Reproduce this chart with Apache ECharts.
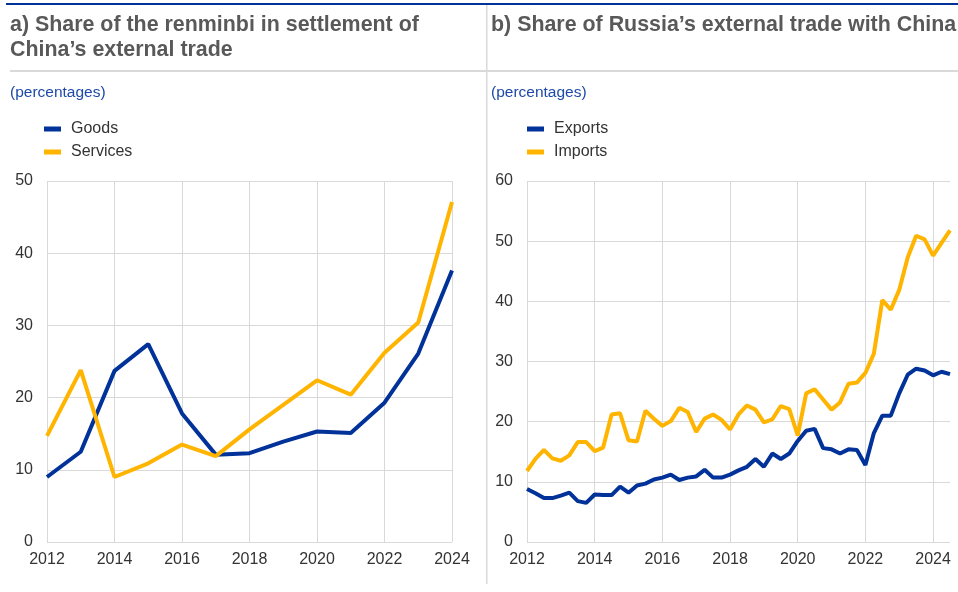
<!DOCTYPE html>
<html>
<head>
<meta charset="utf-8">
<script src="https://cdn.jsdelivr.net/npm/echarts@6/dist/echarts.min.js"></script>
<style>
html,body{margin:0;padding:0;background:#fff;}
#chart{width:958px;height:592px;}
</style>
</head>
<body>
<div id="chart"></div>
<script>
// ---- Panel a) data (annual) ----
var yearsA = ['2012','2013','2014','2015','2016','2017','2018','2019','2020','2021','2022','2023','2024'];
var goods = [9.0, 12.5, 23.7, 27.4, 17.8, 12.1, 12.3, 13.9, 15.3, 15.1, 19.3, 26.1, 37.6];
var services = [14.7, 23.8, 9.0, 10.9, 13.5, 11.9, 15.6, 19.0, 22.4, 20.4, 26.2, 30.4, 47.1];

// ---- Panel b) data (quarterly, 2012Q1 - 2024Q3) ----
var quarterYears = ['2012','2013','2014','2015','2016','2017','2018','2019','2020','2021','2022','2023','2024'];
var quarters = [];
quarterYears.forEach(function (y) { ['Q1','Q2','Q3','Q4'].forEach(function (q) { quarters.push(y + q); }); });
quarters = quarters.slice(0, 51);
var exportsB = [8.8, 8.1, 7.3, 7.3, 7.7, 8.2, 6.8, 6.5, 7.9, 7.8,
                7.8, 9.2, 8.2, 9.4, 9.7, 10.4, 10.7, 11.2, 10.3, 10.7,
                10.9, 12.0, 10.7, 10.7, 11.2, 11.9, 12.5, 13.8, 12.5, 14.7,
                13.8, 14.7, 16.8, 18.5, 18.8, 15.6, 15.4, 14.7, 15.4, 15.3,
                12.8, 18.1, 21.0, 21.0, 24.7, 27.8, 28.8, 28.5, 27.7, 28.3,
                27.9];
var importsB = [11.8, 13.8, 15.3, 13.9, 13.5, 14.4, 16.6, 16.6, 15.1, 15.7,
                21.2, 21.4, 16.9, 16.7, 21.8, 20.5, 19.3, 20.1, 22.3, 21.6,
                18.3, 20.5, 21.2, 20.3, 18.7, 21.2, 22.7, 22.0, 19.9, 20.4,
                22.6, 22.1, 17.7, 24.7, 25.4, 23.7, 22.0, 23.2, 26.3, 26.5,
                28.1, 31.3, 40.2, 38.6, 41.9, 47.3, 50.9, 50.3, 47.6, 49.7,
                51.8];

var titleA1 = 'a) Share of the renminbi in settlement of';
var titleA2 = 'China\u2019s external trade';
var titleB = 'b) Share of Russia\u2019s external trade with China';
var unitText = '(percentages)';

var BLUE = '#003299', ORANGE = '#ffb400', GRID = '#d9d9d9', TXT = '#333333';
var FONT = '"Liberation Sans", Arial, sans-serif';

var chart = echarts.init(document.getElementById('chart'), null, {renderer: 'canvas'});

function xAxisCfg(gridIndex, data, interval) {
  return {
    type: 'category', gridIndex: gridIndex, data: data, boundaryGap: false,
    axisLine: {show: false}, axisTick: {show: false},
    axisLabel: {interval: interval, color: TXT, fontSize: 16, fontFamily: FONT, margin: 10,
      formatter: function (v) { return v.slice(0, 4); }},
    splitLine: {show: true, interval: interval, lineStyle: {color: GRID, width: 1}}
  };
}
function yAxisCfg(gridIndex, max) {
  return {
    type: 'value', gridIndex: gridIndex, min: 0, max: max, interval: 10,
    axisLine: {show: false}, axisTick: {show: false},
    axisLabel: {color: TXT, fontSize: 16, fontFamily: FONT, margin: 14},
    splitLine: {show: true, lineStyle: {color: GRID, width: 1}}
  };
}
function lineSeries(name, data, color, idx) {
  return {
    name: name, type: 'line', data: data, xAxisIndex: idx, yAxisIndex: idx,
    symbol: 'none', lineStyle: {color: color, width: 4}, itemStyle: {color: color}
  };
}
function legendCfg(names, left) {
  return {
    data: names, orient: 'vertical', left: left, top: 121, padding: 0, icon: 'rect',
    itemWidth: 17, itemHeight: 5, itemGap: 7,
    textStyle: {fontSize: 16, color: TXT, fontFamily: FONT, padding: [0, 0, 0, 5]}
  };
}

chart.setOption({
  animation: false,
  backgroundColor: '#ffffff',
  textStyle: {fontFamily: FONT},
  grid: [
    {left: 47, top: 181, width: 405, height: 361},
    {left: 527, top: 181, width: 423, height: 361}
  ],
  xAxis: [xAxisCfg(0, yearsA, 1), xAxisCfg(1, quarters, 7)],
  yAxis: [yAxisCfg(0, 50), yAxisCfg(1, 60)],
  legend: [legendCfg(['Goods', 'Services'], 44), legendCfg(['Exports', 'Imports'], 527)],
  series: [
    lineSeries('Goods', goods, BLUE, 0),
    lineSeries('Services', services, ORANGE, 0),
    lineSeries('Exports', exportsB, BLUE, 1),
    lineSeries('Imports', importsB, ORANGE, 1)
  ],
  graphic: [
    {type: 'rect', shape: {x: 6, y: 3, width: 952, height: 2}, style: {fill: BLUE}, silent: true},
    {type: 'rect', shape: {x: 10, y: 70, width: 948, height: 2}, style: {fill: GRID}, silent: true},
    {type: 'rect', shape: {x: 486, y: 5, width: 1.5, height: 579}, style: {fill: GRID}, silent: true},
    {type: 'text', x: 10, y: 25, style: {text: titleA1, fill: '#595959', font: 'bold 21.4px ' + FONT, textVerticalAlign: 'middle'}},
    {type: 'text', x: 10, y: 50, style: {text: titleA2, fill: '#595959', font: 'bold 21.4px ' + FONT, textVerticalAlign: 'middle'}},
    {type: 'text', x: 491, y: 25, style: {text: titleB, fill: '#595959', font: 'bold 21.4px ' + FONT, textVerticalAlign: 'middle'}},
    {type: 'text', x: 10, y: 93, style: {text: unitText, fill: '#1d49a8', font: '15.5px ' + FONT, textVerticalAlign: 'middle'}},
    {type: 'text', x: 491, y: 93, style: {text: unitText, fill: '#1d49a8', font: '15.5px ' + FONT, textVerticalAlign: 'middle'}}
  ]
});
</script>
</body>
</html>
